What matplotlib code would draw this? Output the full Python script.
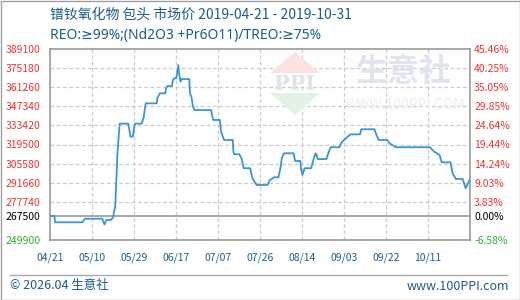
import numpy as np
import matplotlib.pyplot as plt
from matplotlib.patches import Polygon, Rectangle
from matplotlib.lines import Line2D

plt.rcParams['font.family'] = ['Noto Sans CJK SC', 'DejaVu Sans']

# days after 2019-04-21 and price (yuan/ton)
days = [0, 2, 2.3, 15, 16, 24, 25, 26, 28, 29, 30, 31, 32, 36, 37, 38, 39, 42,
        43, 43.5, 44, 49, 49.4, 50.5, 53, 53.3, 54, 56, 56.5, 57, 58, 59, 59.4,
        60, 60.5, 64, 64.3, 65, 65.7, 66.4, 74, 75, 78, 78.3, 78.6, 80, 84, 84.2,
        84.5, 87, 88, 89, 92, 93, 95, 100, 101, 103, 105, 106, 106.5, 107.5, 112,
        112.6, 115, 115.3, 116, 117, 120, 121, 122, 122.5, 123, 127, 128.7, 129,
        133, 134, 136, 138, 142.5, 143, 149, 151, 155, 156, 159, 174.6, 176.5,
        179, 180, 184, 185, 186.5, 189.6, 191, 193]
price = [267500, 267500, 262800, 262800, 265400, 265400, 261300, 264500, 264500,
         266400, 275400, 313300, 334700, 334700, 325200, 325200, 334700, 334700,
         338600, 344600, 349500, 349500, 353600, 356800, 356800, 360500, 362100,
         362100, 366500, 367700, 367700, 377400, 370200, 365300, 367200, 367200,
         356800, 354300, 347100, 344600, 344600, 337400, 337400, 333700, 328800,
         322800, 322800, 316200, 312400, 312400, 309400, 302200, 302200, 294900,
         290000, 290000, 293600, 295600, 295600, 303300, 309400, 313100, 313100,
         307500, 307500, 302200, 297300, 302200, 302200, 308200, 313100, 311900,
         308900, 308900, 316700, 317500, 317500, 321100, 324000, 326900, 326900,
         330600, 330600, 322800, 322800, 320400, 317500, 317500, 314300, 311900,
         306500, 306500, 298500, 294400, 294400, 287600, 294200]

base = 267500
y_ticks = [249900, 267500, 277740, 291660, 305580, 319500, 333420, 347340,
           361260, 375180, 389100]
pct_labels = ['-6.58%', '0.00%', '3.83%', '9.03%', '14.24%', '19.44%', '24.64%',
              '29.85%', '35.05%', '40.25%', '45.46%']
x_labels = ['04/21', '05/10', '05/29', '06/17', '07/07', '07/26', '08/14',
            '09/03', '09/22', '10/11']
total_days = 193

W, H = 520, 300
fig = plt.figure(figsize=(W / 100, H / 100), dpi=100)
ax = fig.add_axes([50 / W, 60 / H, 420 / W, 191 / H])


def px(x, y):
    return (x / W, 1 - y / H)


# watermark
wm = dict(transform=fig.transFigure, zorder=0)
fig.patches.append(Polygon([px(270, 73), px(320, 73), px(295, 52)],
                           closed=True, fc='#fbe2e0', ec='none', **wm))
fig.patches.append(Polygon([px(270, 93), px(320, 93), px(295, 115)],
                           closed=True, fc='#e2f2e4', ec='none', **wm))
fig.text(295 / W, 1 - 84 / H, 'PPI', ha='center', va='center', fontsize=15,
         fontweight='bold', color='#dfe3ee', family='DejaVu Serif', zorder=0)
fig.text(403 / W, 1 - 72 / H, '生意社', ha='center', va='center', fontsize=23,
         fontweight='bold', color='#dfe4ee', zorder=0)
fig.text(405 / W, 1 - 105 / H, 'WWW.100PPI.COM', ha='center', va='center',
         fontsize=10, color='#eeeeee', zorder=0)

ax.set_facecolor('none')
ax.plot(days, price, color='#3a96d6', lw=1.3, zorder=3)

ax.set_xlim(0, total_days)
ax.set_ylim(y_ticks[0], y_ticks[-1])
xt = np.linspace(0, total_days, 11)[:-1]
ax.set_xticks(xt)
ax.set_xticklabels(x_labels)
ax.set_yticks(y_ticks)
ax.set_yticklabels([str(v) for v in y_ticks])

for v in y_ticks[2:-1]:
    ax.axhline(v, color='#cccccc', lw=0.9, ls=(0, (3, 2)), zorder=1)
for x in xt[1:]:
    ax.axvline(x, color='#cccccc', lw=0.9, ls=(0, (3, 2)), zorder=1)
ax.axhline(base, color='#999999', lw=1.2, zorder=2)

for s in ax.spines.values():
    s.set_color('#999999')
    s.set_linewidth(1.2)

ax.tick_params(axis='both', length=0, labelsize=7.5)
ax.tick_params(axis='y', pad=7)
ax.tick_params(axis='x', pad=9, colors='#1f5f8f')
for lab, v in zip(ax.get_yticklabels(), y_ticks):
    lab.set_color('#ee3333' if v > base else ('black' if v == base else '#33aa33'))

ax2 = ax.twinx()
ax2.set_ylim(ax.get_ylim())
ax2.set_yticks(y_ticks)
ax2.set_yticklabels(pct_labels)
ax2.tick_params(axis='y', length=0, labelsize=7.5, pad=3)
for s in ax2.spines.values():
    s.set_visible(False)
for lab, v in zip(ax2.get_yticklabels(), y_ticks):
    lab.set_color('#ee3333' if v > base else ('black' if v == base else '#33aa33'))

title_c = '#1a5c8c'
fig.text(50 / W, 1 - 15 / H, '镨钕氧化物 包头 市场价 2019-04-21 - 2019-10-31',
         ha='left', va='center', fontsize=10, color=title_c)
fig.text(50 / W, 1 - 35 / H, 'REO:≥99%;(Nd2O3 +Pr6O11)/TREO:≥75%',
         ha='left', va='center', fontsize=10, color=title_c,
         family=['Noto Sans', 'DejaVu Sans'])

fig.lines.append(Line2D([10 / W, 507 / W], [1 - 275 / H, 1 - 275 / H],
                        transform=fig.transFigure, color='#aaaaaa', lw=1))
fig.text(10 / W, 1 - 286 / H, '© 2026.04 生意社', ha='left', va='center',
         fontsize=9, color=title_c)
fig.text(509 / W, 1 - 286 / H, 'www.100PPI.com', ha='right', va='center',
         fontsize=9, color=title_c)
fig.patches.append(Rectangle((0.5 / W, 0.5 / H), 1 - 1 / W, 1 - 1 / H, fill=False,
                             ec='#a0a0a0', lw=1, transform=fig.transFigure))

fig.savefig('out.png', dpi=100)
